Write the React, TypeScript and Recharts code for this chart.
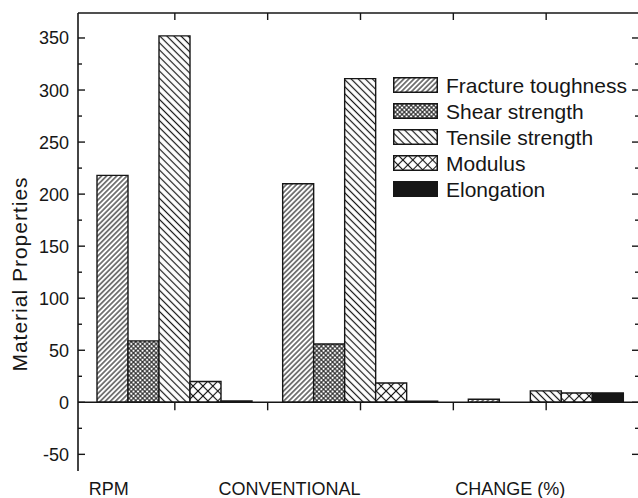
import { Bar, ComposedChart, Legend, Line, ReferenceLine, XAxis, YAxis } from "recharts";

const groups = ["RPM", "CONVENTIONAL", "CHANGE (%)"];
const fractureToughness = [218, 210, 3];
const shearStrength = [59, 56, 0];
const tensileStrength = [352, 311, 11];
const modulus = [20, 18.5, 9];
const elongation = [1.2, 1, 9];

const yDomain = [-66, 374];
const yTicks = [-50, -25, 0, 25, 50, 75, 100, 125, 150, 175, 200, 225, 250, 275, 300, 325, 350];

const INK = "#161616";
const FONT = '"Liberation Sans", Arial, Helvetica, sans-serif';

// layout
const CHART_W = 642;
const MARGIN_TOP = 13;
const MARGIN_RIGHT = 2;
const LEFT_W = 78;
const RIGHT_W = 1;
const PAD_LEFT = 4;

const series = [
  { key: "fracture", name: "Fracture toughness", fill: "url(#pat-frac)" },
  { key: "shear", name: "Shear strength", fill: "url(#pat-shear)" },
  { key: "tensile", name: "Tensile strength", fill: "url(#pat-tens)" },
  { key: "modulus", name: "Modulus", fill: "url(#pat-mod)" },
  { key: "elongation", name: "Elongation", fill: INK },
];

const data = groups.map((group, i) => ({
  group,
  fracture: fractureToughness[i],
  shear: shearStrength[i],
  tensile: tensileStrength[i],
  modulus: modulus[i],
  elongation: elongation[i],
}));

// hand-placed category captions, shifted left of the group centre like the original
const captionShift = [-66, -71, -36];

// frame ticks at every group centre and every boundary between groups (half-band steps)
const band = (CHART_W - MARGIN_RIGHT - RIGHT_W - LEFT_W - PAD_LEFT) / groups.length;
const halfSteps = Array.from({ length: groups.length * 2 - 1 }, (_, k) => k + 1);

function LeftTick({ x, y, payload }: any) {
  const v = payload.value as number;
  const major = v % 50 === 0;
  return (
    <g>
      <line x1={x} x2={x + (major ? 7 : 4)} y1={y} y2={y} stroke={INK} strokeWidth={1.4} />
      {major && (
        <text x={x - 9} y={y} dy="0.36em" textAnchor="end" fontSize={18} fill={INK} fontFamily={FONT}>
          {v}
        </text>
      )}
      {v === 0 &&
        halfSteps.map((k) => {
          const tx = x + PAD_LEFT + (band * k) / 2;
          return (
            <g key={k} stroke={INK} strokeWidth={1.4}>
              <line x1={tx} x2={tx} y1={MARGIN_TOP} y2={MARGIN_TOP + 7} />
              <line x1={tx} x2={tx} y1={y} y2={y + 8} />
            </g>
          );
        })}
    </g>
  );
}

function RightTick({ x, y, payload }: any) {
  const major = (payload.value as number) % 50 === 0;
  return <line x1={x} x2={x - (major ? 7 : 4)} y1={y} y2={y} stroke={INK} strokeWidth={1.4} />;
}

function CaptionTick({ x, y, payload, index }: any) {
  return (
    <text x={x + captionShift[index]} y={y + 24} textAnchor="middle" fontSize={18} fill={INK} fontFamily={FONT}>
      {payload.value}
    </text>
  );
}

function LegendBox() {
  return (
    <div style={{ fontFamily: FONT, color: INK }}>
      {series.map((s) => (
        <div key={s.key} style={{ display: "flex", alignItems: "center", height: 26 }}>
          <svg width={45} height={16} style={{ display: "block" }}>
            <rect x={0.75} y={0.75} width={43.5} height={14.5} fill={s.fill} stroke={INK} strokeWidth={1.5} />
          </svg>
          <span style={{ marginLeft: 8, fontSize: 21, lineHeight: "21px", whiteSpace: "nowrap" }}>{s.name}</span>
        </div>
      ))}
    </div>
  );
}

export default function App() {
  return (
    <div style={{ position: "absolute", left: 0, top: 0, width: 638, height: 498, overflow: "hidden", background: "#fff" }}>
      <ComposedChart
        width={CHART_W}
        height={498}
        data={data}
        margin={{ top: MARGIN_TOP, right: MARGIN_RIGHT, bottom: 0, left: 0 }}
        barSize={31}
        barGap={0}
      >
        <defs>
          <pattern id="pat-frac" patternUnits="userSpaceOnUse" width={3.6} height={3.6} patternTransform="rotate(45)">
            <rect width={3.6} height={3.6} fill="#fff" />
            <line x1={1.8} y1={0} x2={1.8} y2={3.6} stroke={INK} strokeWidth={1.1} />
          </pattern>
          <pattern id="pat-shear" patternUnits="userSpaceOnUse" width={3.2} height={3.2} patternTransform="rotate(45)">
            <rect width={3.2} height={3.2} fill="#fff" />
            <line x1={1.6} y1={0} x2={1.6} y2={3.2} stroke={INK} strokeWidth={1} />
            <line x1={0} y1={1.6} x2={3.2} y2={1.6} stroke={INK} strokeWidth={1} />
          </pattern>
          <pattern id="pat-tens" patternUnits="userSpaceOnUse" width={5} height={5} patternTransform="rotate(-45)">
            <rect width={5} height={5} fill="#fff" />
            <line x1={2.5} y1={0} x2={2.5} y2={5} stroke={INK} strokeWidth={1.2} />
          </pattern>
          <pattern id="pat-mod" patternUnits="userSpaceOnUse" width={7} height={7} patternTransform="rotate(45)">
            <rect width={7} height={7} fill="#fff" />
            <line x1={3.5} y1={0} x2={3.5} y2={7} stroke={INK} strokeWidth={1.1} />
            <line x1={0} y1={3.5} x2={7} y2={3.5} stroke={INK} strokeWidth={1.1} />
          </pattern>
        </defs>

        <XAxis
          dataKey="group"
          height={27}
          axisLine={false}
          tickLine={false}
          tickSize={0}
          tickMargin={0}
          interval={0}
          padding={{ left: PAD_LEFT, right: 0 }}
          tick={<CaptionTick />}
        />
        <YAxis
          yAxisId="left"
          type="number"
          domain={yDomain}
          allowDataOverflow
          ticks={yTicks}
          width={LEFT_W}
          interval={0}
          tickSize={0}
          tickMargin={0}
          tickLine={false}
          axisLine={{ stroke: INK, strokeWidth: 1.6 }}
          tick={<LeftTick />}
          label={{
            content: () => (
              <text
                x={27}
                y={274}
                transform="rotate(-90, 27, 274)"
                textAnchor="middle"
                fontSize={21}
                letterSpacing={1}
                fill={INK}
                fontFamily={FONT}
              >
                Material Properties
              </text>
            ),
          }}
        />
        <YAxis
          yAxisId="right"
          orientation="right"
          type="number"
          domain={yDomain}
          allowDataOverflow
          ticks={yTicks}
          width={RIGHT_W}
          interval={0}
          tickSize={0}
          tickMargin={0}
          tickLine={false}
          axisLine={false}
          tick={<RightTick />}
        />

        <Legend layout="vertical" align="center" verticalAlign="middle" content={<LegendBox />} wrapperStyle={{ left: 393, top: 72, width: "auto" }} />

        {series.map((s) => (
          <Bar
            key={s.key}
            dataKey={s.key}
            name={s.name}
            yAxisId="left"
            fill={s.fill}
            stroke={INK}
            strokeWidth={1.4}
            isAnimationActive={false}
          />
        ))}

        {/* invisible carrier so the right frame axis gets a scale */}
        <Line
          yAxisId="right"
          dataKey="elongation"
          stroke="none"
          dot={false}
          activeDot={false}
          legendType="none"
          isAnimationActive={false}
        />

        {/* top frame line and zero line */}
        <ReferenceLine yAxisId="left" y={yDomain[1]} ifOverflow="visible" stroke={INK} strokeWidth={1.5} />
        <ReferenceLine yAxisId="left" y={0} stroke={INK} strokeWidth={1.5} />
      </ComposedChart>
    </div>
  );
}
